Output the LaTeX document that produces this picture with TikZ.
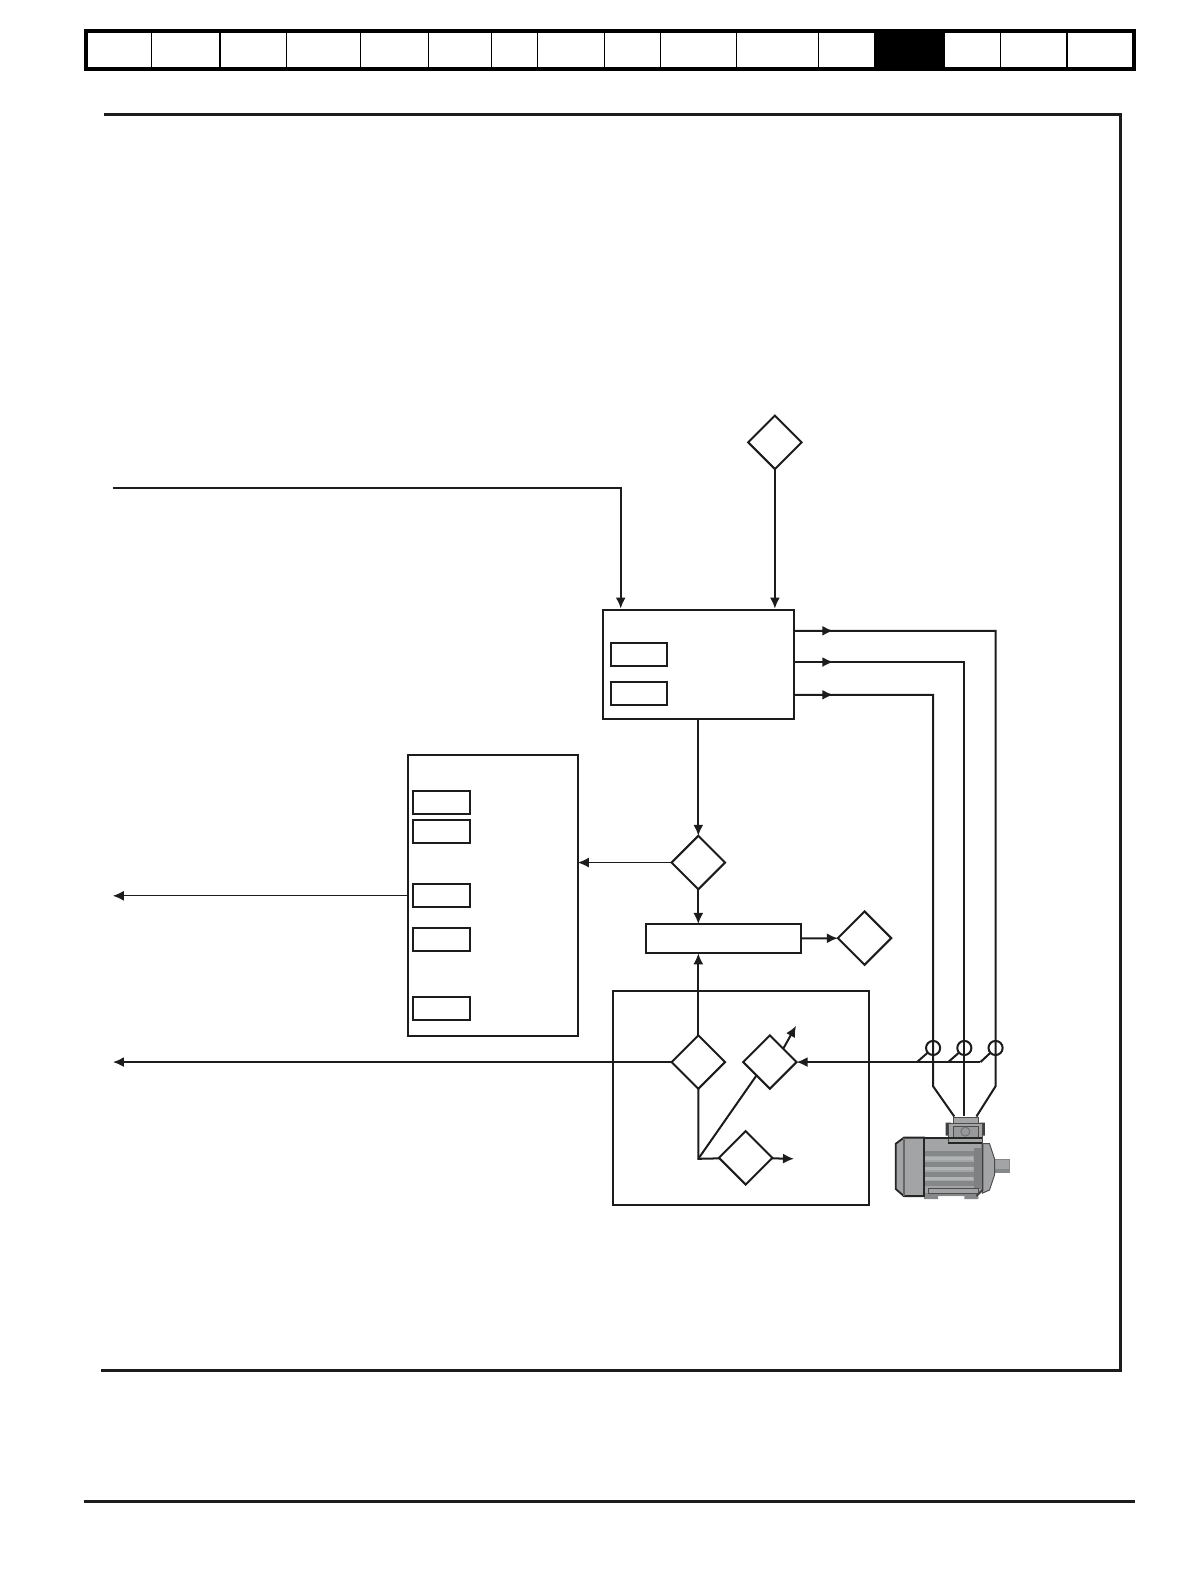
\documentclass[tikz,border=0pt]{standalone}
\usetikzlibrary{shapes.geometric,arrows.meta}
\definecolor{ink}{HTML}{1C1C1C}
\definecolor{mgrey}{HTML}{A2A4A5}
\definecolor{mdark}{HTML}{858889}
\definecolor{mlight}{HTML}{B2B4B5}
\begin{document}
\begin{tikzpicture}[x=0.5pt,y=-0.5pt,>={Latex[length=5.5pt,width=5pt]},node distance=98.25pt,ink,line width=1pt,
        block/.style={rectangle,draw,inner sep=0pt,outer sep=0pt},
        param/.style={block,minimum width=28pt,minimum height=11.5pt},
        junction/.style={diamond,draw,aspect=1,minimum width=26.5pt,minimum height=26.5pt,inner sep=0pt,outer sep=0pt},
        sensor/.style={circle,draw,minimum size=7pt,inner sep=0pt,outer sep=0pt},
        thin wire/.style={line width=0.6pt},
        heavy/.style={line width=1.4pt}]
    \useasboundingbox (0,0) rectangle (1181,1568);

    % header strip
    \fill[black] (867,31) rectangle (938,68);
    \draw[line width=2pt,black] (83,31) -- (1127,31);
    \draw[line width=1.8pt,black] (83,68.5) -- (1127,68.5);
    \draw[line width=2pt,black] (85,29) -- (85,66);
    \draw[line width=2pt,black] (1125.5,29) -- (1125.5,66);
    \foreach \x in {150.5,218.5,284.5,357.5,425.5,488,533.5,600,655.5,731,812,993,1059}
        \draw[line width=0.7pt,black] (\x,31) -- (\x,68);

    % frame and foot line
    \draw[heavy] (103,114) -- (1112,114) -- (1112,1360) -- (100,1360);
    \draw[heavy] (83,1490) -- (1126,1490);

    % blocks
    \node[block,minimum width=94.5pt,minimum height=54.5pt] (ctrl) at (693,659.5) {};
    \node[block,minimum width=84.5pt,minimum height=139.5pt] (store) at (489,888.5) {};
    \node[block,minimum width=77pt,minimum height=14.5pt] (sum) at (718,931.5) {};
    \node[block,minimum width=127pt,minimum height=106.5pt] (fbk) at (735,1089.5) {};
    \node[param] (c1) at (634,649.5) {};
    \node[param] (c2) at (634,688.5) {};
    \foreach \n/\y in {s1/796,s2/825,s3/889,s4/932.5,s5/1001}
        \node[param] (\n) at (438,\y) {};

    % junctions
    \node[junction] (ref) at (769,439) {};
    \node[junction] (mid) [below of=ctrl] {};
    \node[junction] (out) at (858,931) {};
    \node[junction] (fa) at (693,1054) {};
    \node[junction] (fb) at (764,1054) {};
    \node[junction] (fc) at (740,1149) {};

    % current sensors
    \node[sensor] (iu) at (926,1040) {};
    \node[sensor] (iv) at (957,1040) {};
    \node[sensor] (iw) at (988,1040) {};

    % free ends
    \coordinate (inL) at (112,484);
    \coordinate (inB) at (616,484);
    \coordinate (inT) at (616,604);
    \coordinate (refT) at (769,604);
    \coordinate (storeL) at (112,889);
    \coordinate (faL) at (112,1054);
    \coordinate (fbUp) at (790,1018);
    \coordinate (fcR) at (788,1150);
    \coordinate (fk) at (693,1150);
    \foreach \n/\y/\x in {u/626/988,v/657/957,w/689.5/926} {
        \coordinate (\n0) at (788,\y);
        \coordinate (\n1) at (827,\y);
        \coordinate (\n2) at (\x,\y);
        \coordinate (\n3) at (\x,1078);
    }
    \coordinate (mu) at (969,1108);
    \coordinate (mv) at (957,1108);
    \coordinate (mw) at (947,1108);
    \coordinate (t1) at (910,1054);
    \coordinate (t2) at (941,1054);
    \coordinate (t3) at (973,1054);

    % signal paths
    \draw[->] (inL) -- (inB) -- (inT);
    \draw[->] (ref) -- (refT);
    \draw[->] (ctrl) -- (mid);
    \draw[->,thin wire] (mid) -- (store.east |- mid);
    \draw[->] (mid) -- (mid |- sum.north);
    \draw[->] (sum) -- (out);
    \draw[->] (fa) -- (fa |- sum.south);
    \draw[->,thin wire] (store.west |- storeL) -- (storeL);
    \draw[->] (fa) -- (faL);
    \draw[->] (t3) -- (fb);
    \draw[->] (fb.north east) -- (fbUp);
    \draw (fa) -- (fk) -- (fc);
    \draw (fk) -- (fb.south west);
    \draw[->] (fc) -- (fcR);

    % motor phases
    \foreach \n in {u,v,w}
        \draw[->] (\n0) -- (\n1);
    \draw (u0) -- (u2) -- (u3) -- (mu);
    \draw (v0) -- (v2) -- (mv);
    \draw (w0) -- (w2) -- (w3) -- (mw);
    \draw (t1) -- (iu);
    \draw (t2) -- (iv);
    \draw (t3) -- (iw);

    % motor
    \begin{scope}[line width=0.5pt,draw=black!70]
        \fill[mdark] (917,1187) rectangle (931,1190) (957,1187) rectangle (971,1190);
        \fill[mdark] (986,1150) rectangle (1002,1164);
        \fill[mgrey] (987,1151) rectangle (1001,1160);
        \filldraw[fill=mgrey] (975,1135) -- (982,1135) -- (987,1150) -- (987,1166) -- (982,1181) -- (975,1184) -- cycle;
        \fill[mgrey] (917,1129) -- (975,1129) -- (975,1181) -- (969,1187) -- (917,1187) -- cycle;
        \foreach \y/\h in {1142/5,1153/5,1163/5,1172/5}
            \fill[mdark] (917,\y) rectangle (972,\y+\h);
        \foreach \y in {1148,1158.5,1168}
            \fill[mlight] (917,\y) rectangle (966,\y+3);
        \fill[black!50] (967,1139) rectangle (974,1180);
        \fill[mdark] (917,1184) rectangle (970,1187);
        \draw (921,1179) rectangle (971,1184);
        \draw[line width=0.9pt,black!75] (975,1135) -- (975,1181) -- (969,1187);
        \filldraw[fill=mgrey,line width=0.9pt,draw=black!85] (889,1135) -- (897,1129) -- (917,1129) -- (917,1187) -- (897,1187) -- (889,1180) -- cycle;
        \draw[line width=0.7pt,black!60] (897,1129) -- (897,1187);
        \fill[black!75] (938.5,1114) rectangle (944,1127) (972,1114) rectangle (977.5,1127);
        \filldraw[fill=mgrey] (941,1115) rectangle (975,1134);
        \filldraw[fill=mgrey] (946,1109) rectangle (971,1115);
        \filldraw[fill=mlight!85!black,line width=0.7pt] (946,1118) rectangle (971,1129);
        \draw[black!55] (958,1123) circle (2.2pt);
        \draw[line width=1pt,black!85] (917,1129) -- (941,1129) (941,1134) -- (975,1134) (941,1129) -- (975,1129);
    \end{scope}
\end{tikzpicture}
\end{document}
